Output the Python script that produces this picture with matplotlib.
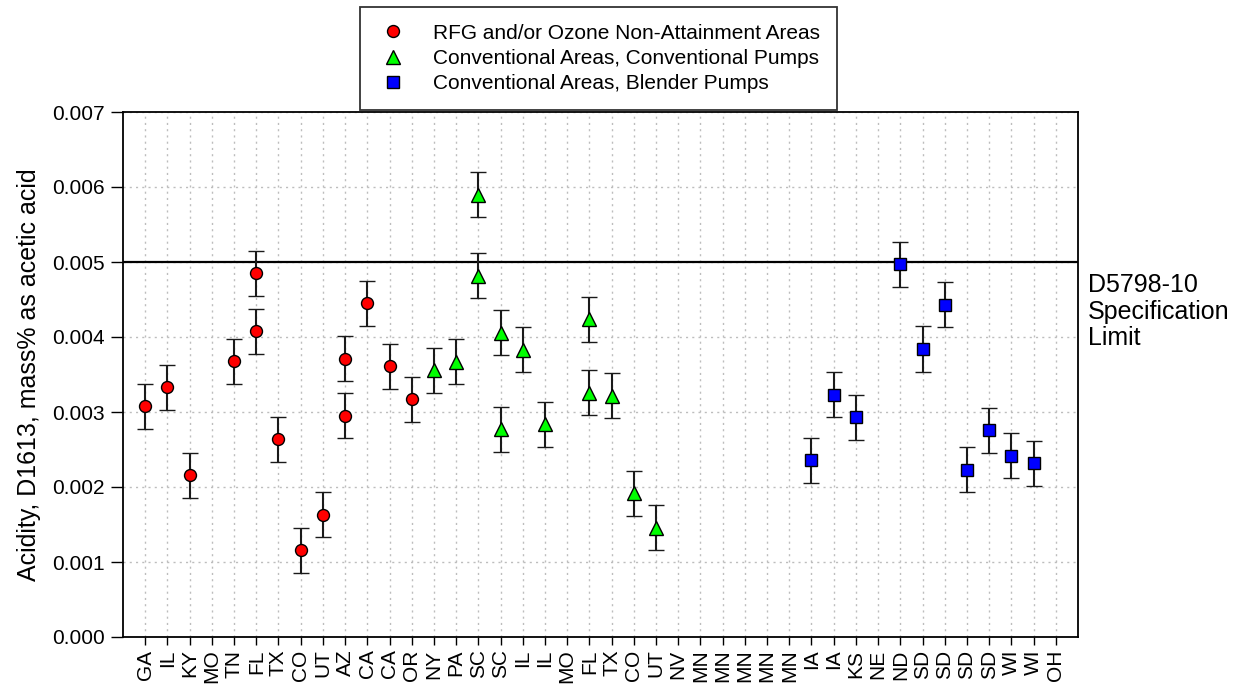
import matplotlib
matplotlib.use("Agg")
import matplotlib.pyplot as plt
from matplotlib.lines import Line2D
import numpy as np

plt.rcParams['font.family'] = ['Liberation Sans', 'DejaVu Sans']

categories = ["GA", "IL", "KY", "MO", "TN", "FL", "TX", "CO", "UT", "AZ", "CA", "CA", "OR",
              "NY", "PA", "SC", "SC", "IL", "IL", "MO", "FL", "TX", "CO", "UT", "NV",
              "MN", "MN", "MN", "MN", "MN", "IA", "IA", "KS", "NE", "ND", "SD", "SD",
              "SD", "SD", "WI", "WI", "OH"]

# category index and acidity value for each series
rfg_idx = [0, 1, 2, 4, 5, 5, 6, 7, 8, 9, 9, 10, 11, 12]
rfg_val = [0.00308, 0.00333, 0.00216, 0.00368, 0.00408, 0.00485, 0.00264,
           0.00116, 0.00163, 0.00371, 0.00295, 0.00445, 0.00361, 0.00317]

conv_idx = [13, 14, 15, 15, 16, 16, 17, 18, 20, 20, 21, 22, 23]
conv_val = [0.00356, 0.00367, 0.00590, 0.00482, 0.00406, 0.00277, 0.00383,
            0.00284, 0.00424, 0.00326, 0.00322, 0.00192, 0.00146]

blend_idx = [30, 31, 32, 34, 35, 36, 37, 38, 39, 40]
blend_val = [0.00236, 0.00323, 0.00293, 0.00497, 0.00384, 0.00443, 0.00223,
             0.00276, 0.00242, 0.00232]

err = 0.0003
spec_limit = 0.005

series_labels = ["RFG and/or Ozone Non-Attainment Areas",
                 "Conventional Areas, Conventional Pumps",
                 "Conventional Areas, Blender Pumps"]

fig = plt.figure(figsize=(12.37, 6.90), dpi=100)
ax = fig.add_axes([123/1237, 1-637/690, (1078-123)/1237, (637-112)/690])

FS = 15
FS_BIG = 18
styles = [("o", "#ff0000", 8.6), ("^", "#00ff00", 9.6), ("s", "#0000ff", 8.4)]
data = [(rfg_idx, rfg_val), (conv_idx, conv_val), (blend_idx, blend_val)]

for (xi, yv), (mk, col, ms) in zip(data, styles):
    ax.errorbar(xi, yv, yerr=err, fmt=mk, color="black", ecolor="#1a1a1a",
                markerfacecolor=col, markeredgecolor="black", markeredgewidth=1.0,
                markersize=ms, elinewidth=1.5, capsize=5.5, capthick=1.5, zorder=3)

ax.axhline(spec_limit, color="black", lw=1.6, zorder=2)

ax.set_xlim(-1, len(categories))
ax.set_ylim(0, 0.007)
ax.set_xticks(np.arange(len(categories)))
ax.set_xticklabels(categories, rotation=90, fontsize=FS)
ax.set_yticks(np.arange(0, 0.0071, 0.001))
ax.set_yticklabels([f"{v:.3f}" for v in np.arange(0, 0.0071, 0.001)], fontsize=FS)
ax.tick_params(direction="out", width=1.0, colors="black")
ax.tick_params(axis="x", length=6, pad=3)
ax.tick_params(axis="y", length=9, pad=4)
ax.grid(True, color="#bdbdbd", linestyle=(0, (1.5, 3)), linewidth=1.0, zorder=0)
ax.set_axisbelow(True)
for s in ax.spines.values():
    s.set_linewidth(1.3)
    s.set_color("black")

ax.set_ylabel("Acidity, D1613, mass% as acetic acid", fontsize=FS_BIG, labelpad=8)

ax.text(1.0105, 0.00434, "D5798-10\nSpecification\nLimit", transform=ax.get_yaxis_transform(),
        ha="left", va="center", fontsize=FS_BIG, linespacing=1.12)

handles = [Line2D([], [], linestyle="none", marker=mk, markerfacecolor=col,
                  markeredgecolor="black", markeredgewidth=1.0, markersize=ms)
           for mk, col, ms in styles]
leg = fig.legend(handles, series_labels, loc="upper left",
                 bbox_to_anchor=(360/1237, 1-7/690), fontsize=FS, frameon=True,
                 fancybox=False, borderaxespad=0, borderpad=0.8, labelspacing=0.3,
                 handlelength=1.6, handletextpad=1.1)
leg.get_frame().set_edgecolor("black")
leg.get_frame().set_linewidth(1.3)

fig.savefig("out.png", dpi=100)
